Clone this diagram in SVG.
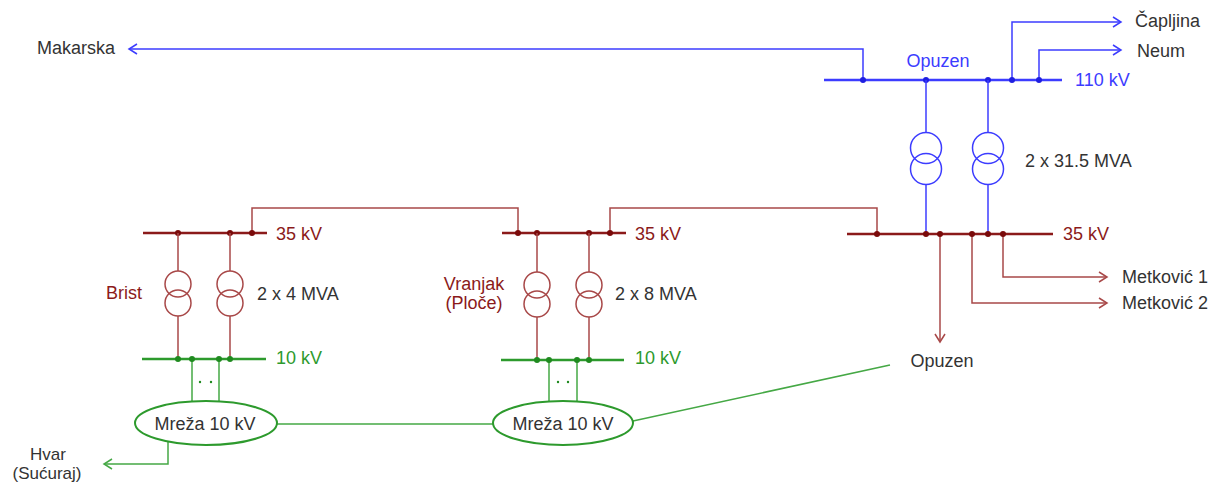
<svg xmlns="http://www.w3.org/2000/svg" width="1211" height="483" viewBox="0 0 1211 483">
<style>
text{font-family:"Liberation Sans",Arial,sans-serif;font-size:18px;fill:#333}
.b{stroke:#3c3cff;fill:none}
.r{stroke:#a84848;fill:none}
.g{stroke:#45a845;fill:none}
.bus{stroke-width:2.6}
.thin{stroke-width:1.5}
.bt{fill:#3c3cff}.rt{fill:#8b1a1a}.gt{fill:#2d9a2d}
.db{fill:#1f1fe0}.dr{fill:#7a0a0a}.dg{fill:#1f8a1f}
.sm{font-size:17px}
</style>
<defs>
<marker id="ab" markerUnits="userSpaceOnUse" markerWidth="12" markerHeight="12" refX="9" refY="6" orient="auto"><polyline points="1,1 9,6 1,11" fill="none" stroke="#3c3cff" stroke-width="1.5"/></marker>
<marker id="ar" markerUnits="userSpaceOnUse" markerWidth="12" markerHeight="12" refX="9" refY="6" orient="auto"><polyline points="1,1 9,6 1,11" fill="none" stroke="#a84848" stroke-width="1.5"/></marker>
<marker id="ag" markerUnits="userSpaceOnUse" markerWidth="12" markerHeight="12" refX="9" refY="6" orient="auto"><polyline points="1,1 9,6 1,11" fill="none" stroke="#45a845" stroke-width="1.5"/></marker>
</defs>

<g id="connectors">
<polyline class="b thin" points="863,80 863,49 129,49" marker-end="url(#ab)"/>
<polyline class="b thin" points="1012,80 1012,22 1121,22" marker-end="url(#ab)"/>
<polyline class="b thin" points="1039,80 1039,50 1121,50" marker-end="url(#ab)"/>
<polyline class="r thin" points="252,233 252,208 518,208 518,233"/>
<polyline class="r thin" points="610,233 610,208 877,208 877,234"/>
<polyline class="r thin" points="1003,234 1003,277 1107,277" marker-end="url(#ar)"/>
<polyline class="r thin" points="972,234 972,303 1107,303" marker-end="url(#ar)"/>
<line class="r thin" x1="940" y1="234" x2="940" y2="342" marker-end="url(#ar)"/>
<line class="g thin" x1="192" y1="359" x2="192" y2="402"/>
<line class="g thin" x1="219" y1="359" x2="219" y2="402"/>
<line class="g thin" x1="549" y1="360" x2="549" y2="401"/>
<line class="g thin" x1="577" y1="360" x2="577" y2="401"/>
<line class="g thin" x1="277" y1="424" x2="493" y2="424"/>
<line class="g thin" x1="633" y1="421" x2="890" y2="365"/>
<polyline class="g thin" points="168,442 168,464 104,464" marker-end="url(#ag)"/>
</g>

<g id="opuzen110">
<line class="b bus" x1="824" y1="80" x2="1062" y2="80"/>
<circle class="db" cx="863" cy="80" r="3"/>
<circle class="db" cx="926" cy="80" r="3"/>
<circle class="db" cx="988" cy="80" r="3"/>
<circle class="db" cx="1012" cy="80" r="3"/>
<circle class="db" cx="1039" cy="80" r="3"/>
<text x="938" y="67" text-anchor="middle" class="bt">Opuzen</text>
<text x="1075" y="86" class="bt">110 kV</text>
</g>

<g id="opuzenTransformers">
<g class="b thin">
<line x1="926" y1="80" x2="926" y2="132"/>
<circle cx="926" cy="148" r="15.5"/>
<circle cx="926" cy="169" r="15.5"/>
<line x1="926" y1="185" x2="926" y2="234"/>
<line x1="988" y1="80" x2="988" y2="132"/>
<circle cx="988" cy="148" r="15.5"/>
<circle cx="988" cy="169" r="15.5"/>
<line x1="988" y1="185" x2="988" y2="234"/>
</g>
<text x="1025" y="167">2 x 31.5 MVA</text>
</g>

<g id="opuzen35">
<line class="r bus" x1="847" y1="234" x2="1053" y2="234" style="stroke:#8b1a1a"/>
<circle class="dr" cx="877" cy="234" r="3"/>
<circle class="dr" cx="926" cy="234" r="3"/>
<circle class="dr" cx="940" cy="234" r="3"/>
<circle class="dr" cx="972" cy="234" r="3"/>
<circle class="dr" cx="988" cy="234" r="3"/>
<circle class="dr" cx="1003" cy="234" r="3"/>
<text x="1063" y="240" class="rt">35 kV</text>
</g>

<g id="brist">
<line class="r bus" x1="143" y1="233" x2="267" y2="233" style="stroke:#8b1a1a"/>
<circle class="dr" cx="178" cy="233" r="3"/>
<circle class="dr" cx="230" cy="233" r="3"/>
<circle class="dr" cx="252" cy="233" r="3"/>
<text x="276" y="240" class="rt">35 kV</text>
<g class="r thin">
<line x1="178" y1="233" x2="178" y2="271"/>
<circle cx="178" cy="284" r="13"/>
<circle cx="178" cy="303" r="13"/>
<line x1="178" y1="316" x2="178" y2="359"/>
<line x1="230" y1="233" x2="230" y2="271"/>
<circle cx="230" cy="284" r="13"/>
<circle cx="230" cy="303" r="13"/>
<line x1="230" y1="316" x2="230" y2="359"/>
</g>
<text x="106" y="299" class="rt">Brist</text>
<text x="257" y="300">2 x 4 MVA</text>
<line class="g bus" x1="142" y1="359" x2="266" y2="359" style="stroke:#2d9a2d"/>
<circle class="dg" cx="178" cy="359" r="3"/>
<circle class="dg" cx="192" cy="359" r="3"/>
<circle class="dg" cx="219" cy="359" r="3"/>
<circle class="dg" cx="230" cy="359" r="3"/>
<text x="276" y="364" class="gt">10 kV</text>
<circle class="dg" cx="200" cy="382" r="1.2"/>
<circle class="dg" cx="211" cy="382" r="1.2"/>
</g>

<g id="vranjak">
<line class="r bus" x1="502" y1="233" x2="626" y2="233" style="stroke:#8b1a1a"/>
<circle class="dr" cx="518" cy="233" r="3"/>
<circle class="dr" cx="537" cy="233" r="3"/>
<circle class="dr" cx="589" cy="233" r="3"/>
<circle class="dr" cx="610" cy="233" r="3"/>
<text x="635" y="240" class="rt">35 kV</text>
<g class="r thin">
<line x1="537" y1="233" x2="537" y2="272"/>
<circle cx="537" cy="285" r="13"/>
<circle cx="537" cy="304" r="13"/>
<line x1="537" y1="317" x2="537" y2="360"/>
<line x1="589" y1="233" x2="589" y2="272"/>
<circle cx="589" cy="285" r="13"/>
<circle cx="589" cy="304" r="13"/>
<line x1="589" y1="317" x2="589" y2="360"/>
</g>
<text x="474" y="290" text-anchor="middle" class="rt">Vranjak</text>
<text x="474" y="309" text-anchor="middle" class="rt">(Ploče)</text>
<text x="615" y="300">2 x 8 MVA</text>
<line class="g bus" x1="501" y1="360" x2="624" y2="360" style="stroke:#2d9a2d"/>
<circle class="dg" cx="537" cy="360" r="3"/>
<circle class="dg" cx="549" cy="360" r="3"/>
<circle class="dg" cx="577" cy="360" r="3"/>
<circle class="dg" cx="589" cy="360" r="3"/>
<text x="635" y="364" class="gt">10 kV</text>
<circle class="dg" cx="558" cy="382" r="1.2"/>
<circle class="dg" cx="568" cy="382" r="1.2"/>
</g>

<g id="mreza1">
<ellipse cx="206" cy="423" rx="71" ry="22" fill="#fff" stroke="#2d9a2d" stroke-width="2"/>
<text x="205" y="430" text-anchor="middle">Mreža 10 kV</text>
</g>
<g id="mreza2">
<ellipse cx="563" cy="423" rx="70" ry="22" fill="#fff" stroke="#2d9a2d" stroke-width="2"/>
<text x="563" y="430" text-anchor="middle">Mreža 10 kV</text>
</g>

<g id="labels">
<text x="37" y="54">Makarska</text>
<text x="1135" y="27">Čapljina</text>
<text x="1137" y="57">Neum</text>
<text x="1122" y="283">Metković 1</text>
<text x="1122" y="309">Metković 2</text>
<text x="942" y="367" text-anchor="middle">Opuzen</text>
<text x="48" y="460" text-anchor="middle" class="sm">Hvar</text>
<text x="47" y="479" text-anchor="middle" class="sm">(Sućuraj)</text>
</g>
</svg>
